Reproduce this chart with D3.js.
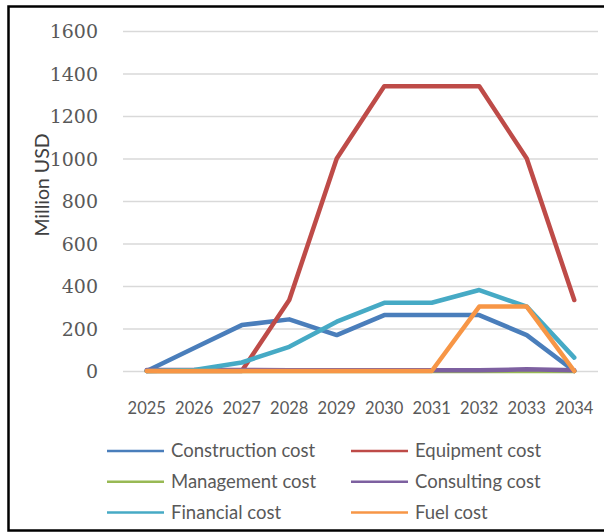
<!DOCTYPE html>
<html>
<head>
<meta charset="utf-8">
<script src="https://cdn.jsdelivr.net/npm/d3@7"></script>
<style>
  body { margin: 0; background: #fff; }
  svg { display: block; }
</style>
</head>
<body>
<div id="grafico"></div>
<script>
// Datos
const anios = ["2025", "2026", "2027", "2028", "2029", "2030", "2031", "2032", "2033", "2034"]
const construccion = [0, 108, 216, 243, 169, 263, 263, 263, 169, 0]
const equipos = [0, 0, 0, 334, 1000, 1340, 1340, 1340, 1000, 334]
const gestion = [0, 0, 0, 0, 0, 0, 0, 0, 0, 0]
const consultoria = [5, 5, 5, 3, 3, 3, 3, 3, 8, 3]
const financiero = [0, 5, 40, 114, 232, 321, 321, 381, 303, 63]
const combustible = [0, 0, 0, 0, 0, 0, 0, 303, 303, 0]
const yTicks = [0, 200, 400, 600, 800, 1000, 1200, 1400, 1600]

const series = [
  { nombre: "Construction cost", valores: construccion, color: "#4a7ebb" },
  { nombre: "Equipment cost", valores: equipos, color: "#be4b48" },
  { nombre: "Management cost", valores: gestion, color: "#98b954" },
  { nombre: "Consulting cost", valores: consultoria, color: "#7d60a0" },
  { nombre: "Financial cost", valores: financiero, color: "#46aac5" },
  { nombre: "Fuel cost", valores: combustible, color: "#f79646" },
]

const anchoTotal = 604
const altoTotal = 532
const margins = { top: 31, right: 6, bottom: 161, left: 123 }
const ancho = anchoTotal - margins.left - margins.right
const alto = altoTotal - margins.top - margins.bottom

const svg = d3.select("#grafico")
  .append("svg")
  .attr("width", anchoTotal)
  .attr("height", altoTotal)

// Marco exterior
svg.append("rect")
  .attr("x", 8.5)
  .attr("y", 6.5)
  .attr("width", 620)
  .attr("height", 524)
  .attr("fill", "none")
  .attr("stroke", "#000")
  .attr("stroke-width", 2.5)

const g = svg.append("g")
  .attr("transform", `translate(${margins.left}, ${margins.top})`)

const x = d3.scaleBand().domain(anios).range([0, ancho])
const y = d3.scaleLinear().domain([0, 1600]).range([alto, 0])

// Lineas de grilla y etiquetas del eje Y
const yAxis = d3.axisLeft(y).tickValues(yTicks).tickFormat(d3.format("d")).tickSize(-ancho).tickPadding(25)
const yAxisGroup = g.append("g").call(yAxis)
yAxisGroup.select(".domain").remove()
yAxisGroup.selectAll("line").attr("stroke", "#d9d9d9").attr("stroke-width", 1.3)
yAxisGroup.selectAll("text")
  .attr("dy", "0.36em")
  .style("font-family", "'DejaVu Serif', serif")
  .style("font-size", "19px")
  .style("fill", "#595959")

// Etiquetas del eje X
const xAxis = d3.axisBottom(x).tickSize(0).tickPadding(31)
const xAxisGroup = g.append("g")
  .attr("transform", `translate(0, ${alto})`)
  .call(xAxis)
xAxisGroup.select(".domain").remove()
xAxisGroup.selectAll("text")
  .style("font-family", "Lato, 'Open Sans', sans-serif")
  .style("font-size", "16.5px")
  .style("fill", "#595959")

// Titulo del eje Y
svg.append("text")
  .attr("transform", `translate(49, 185) rotate(-90)`)
  .attr("text-anchor", "middle")
  .style("font-family", "Lato, 'Open Sans', sans-serif")
  .style("font-size", "19.5px")
  .style("fill", "#404040")
  .text("Million USD")

// Lineas de las series
const linea = (valores) => d3.line()
  .x((d, i) => x(anios[i]) + x.bandwidth() / 2)
  .y((d) => y(d))(valores)

g.selectAll(".serie")
  .data(series)
  .enter()
  .append("path")
  .attr("class", "serie")
  .attr("d", (d) => linea(d.valores))
  .attr("fill", "none")
  .attr("stroke", (d) => d.color)
  .attr("stroke-width", 4.5)
  .attr("stroke-linejoin", "round")
  .attr("stroke-linecap", "round")

// Leyenda
const leyenda = svg.append("g")
const item = leyenda.selectAll("g")
  .data(series)
  .enter()
  .append("g")
  .attr("transform", (d, i) => `translate(${i % 2 === 0 ? 107 : 351}, ${451 + Math.floor(i / 2) * 30.8})`)
item.append("line")
  .attr("x1", 0).attr("x2", 57)
  .attr("y1", 0).attr("y2", 0)
  .attr("stroke", (d) => d.color)
  .attr("stroke-width", 2.5)
item.append("text")
  .attr("x", 64)
  .attr("y", 6)
  .style("font-family", "Lato, 'Open Sans', sans-serif")
  .style("font-size", "18.5px")
  .style("fill", "#595959")
  .text((d) => d.nombre)
</script>
</body>
</html>
